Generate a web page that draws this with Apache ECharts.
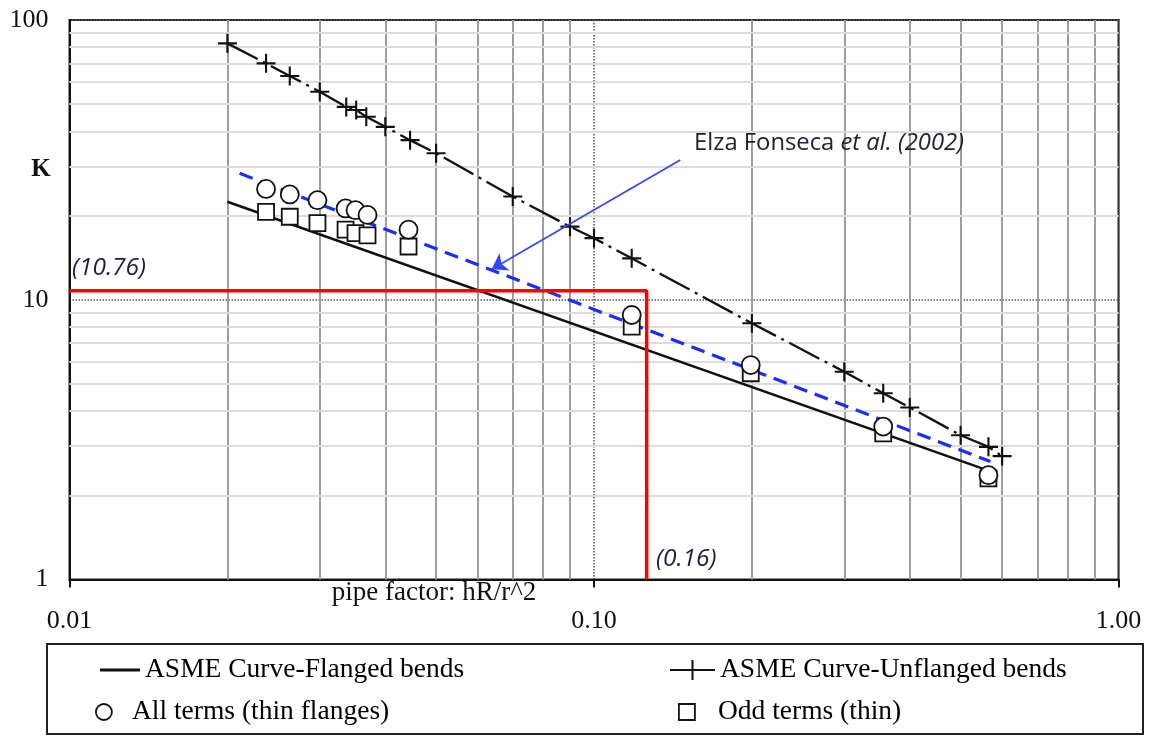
<!DOCTYPE html>
<html><head><meta charset="utf-8">
<script src="https://cdn.jsdelivr.net/npm/echarts@6/dist/echarts.min.js"></script>
<style>html,body{margin:0;padding:0;background:#fff}#c{width:1154px;height:736px}</style>
</head><body><div id="c"></div>
<script>
// ---- tick labels ----
const xTickLabels = ['0.01', '0.10', '1.00'];
const yTickLabels = ['1', '10', '100'];
const xMinorGrid = [0.02,0.03,0.04,0.05,0.06,0.07,0.08,0.09,0.2,0.3,0.4,0.5,0.6,0.7,0.8,0.9];
const yMinorGrid = [2,3,4,5,6,7,8,9,20,30,40,50,60,70,80,90];

// ---- series data ----
const flangedX = [0.020, 0.565];
const flangedK = [22.4, 2.45];

const unflangedX = [0.0200, 0.0237, 0.0263, 0.0300, 0.0337, 0.0352, 0.0368, 0.0400, 0.0446, 0.0500,
                    0.070, 0.090, 0.100, 0.118, 0.200, 0.300, 0.356, 0.400, 0.500, 0.565, 0.600];
const unflangedK = [82.5, 70.0, 63.1, 55.4, 48.9, 47.7, 45.1, 41.5, 37.2, 33.4,
                    23.4, 18.25, 16.6, 14.06, 8.24, 5.53, 4.63, 4.12, 3.28, 2.98, 2.76];

const allTermsX = [0.0237, 0.0263, 0.0297, 0.0336, 0.0351, 0.0370, 0.0443, 0.118, 0.199, 0.356, 0.565];
const allTermsK = [24.9, 23.8, 22.7, 21.2, 20.9, 20.1, 17.8, 8.82, 5.84, 3.52, 2.36];

const oddTermsX = [0.0237, 0.0263, 0.0297, 0.0336, 0.0351, 0.0370, 0.0443, 0.118, 0.199, 0.356, 0.565];
const oddTermsK = [20.6, 19.8, 18.8, 17.8, 17.3, 17.0, 15.5, 8.01, 5.46, 3.33, 2.30];

const fonsecaX = [0.0211, 0.570];
const fonsecaK = [28.3, 2.64];

const refX = [0.01, 0.126, 0.126];
const refK = [10.76, 10.76, 1];

const arrowFrom = [0.146, 31.6];
const arrowTo = [0.0638, 12.85];

const zip = (xs, ys) => xs.map((x, i) => [x, ys[i]]);

const NAME_FL = 'ASME Curve-Flanged bends';
const NAME_UN = 'ASME Curve-Unflanged bends';
const NAME_ALL = 'All terms (thin flanges)';
const NAME_ODD = 'Odd terms (thin)';

const plusPath = 'path://M8,0H10V18H8Z M0,8H18V10H0Z';
const serif = 'Liberation Serif';
const legendText = { fontFamily: serif, fontSize: 27.5, color: '#000', lineHeight: 30 };

const chart = echarts.init(document.getElementById('c'), null, { renderer: 'canvas' });

const gridMarks = xMinorGrid.map(v => ({ xAxis: v, lineStyle: { color: '#9d9d9d', width: 2, type: 'solid' } }))
  .concat(yMinorGrid.map(v => ({ yAxis: v, lineStyle: { color: '#dcdcdc', width: 2, type: 'solid' } })));

chart.setOption({
  animation: false,
  backgroundColor: '#fff',
  grid: { left: 69.5, right: 35.5, top: 20, bottom: 156.5, show: true, borderColor: '#222', borderWidth: 2, backgroundColor: 'transparent' },
  xAxis: {
    type: 'log', logBase: 10, min: 0.01, max: 1,
    axisLine: { show: true, lineStyle: { color: '#111', width: 2 } },
    axisTick: { show: true, length: 8, lineStyle: { color: '#111', width: 2 } },
    axisLabel: {
      margin: 29, fontFamily: serif, fontSize: 26, color: '#111',
      formatter: v => xTickLabels[Math.round(Math.log10(v)) + 2] || ''
    },
    splitLine: { show: true, lineStyle: { type: 'dotted', color: '#555', width: 1.5 } },
    minorTick: { show: false }, minorSplitLine: { show: false }
  },
  yAxis: {
    type: 'log', logBase: 10, min: 1, max: 100,
    axisLine: { show: true, lineStyle: { color: '#111', width: 2 } },
    axisTick: { show: false },
    axisLabel: {
      margin: 21, fontFamily: serif, fontSize: 26, color: '#111', lineHeight: 32, verticalAlign: 'middle', padding: [6, 0, 0, 0],
      formatter: v => yTickLabels[Math.round(Math.log10(v))] || ''
    },
    splitLine: { show: true, lineStyle: { type: 'dotted', color: '#555', width: 1.5 } }
  },
  legend: [
    { data: [{ name: NAME_FL, icon: 'path://M0,0H40V3H0Z', itemStyle: { color: '#111' } }],
      left: 100, top: 655, itemWidth: 40, itemHeight: 3, padding: 0, selectedMode: false, textStyle: legendText },
    { data: [{ name: NAME_UN, icon: 'path://M0,9H45V11H0Z M21.5,0H23.5V20H21.5Z', itemStyle: { color: '#111' } }],
      left: 670, top: 655, itemWidth: 45, itemHeight: 20, padding: 0, selectedMode: false, textStyle: legendText },
    { data: [{ name: NAME_ALL, icon: 'circle', itemStyle: { color: '#fff', borderColor: '#111', borderWidth: 1.8 } }],
      left: 95, top: 697, itemWidth: 46, itemHeight: 16, padding: 0, selectedMode: false, textStyle: legendText },
    { data: [{ name: NAME_ODD, icon: 'rect', itemStyle: { color: '#fff', borderColor: '#111', borderWidth: 1.8 } }],
      left: 678, top: 697, itemWidth: 16, itemHeight: 16, padding: 0, selectedMode: false,
      textStyle: Object.assign({}, legendText, { padding: [0, 0, 0, 18] }) }
  ],
  graphic: [
    { type: 'rect', z: 0, shape: { x: 47, y: 644, width: 1096, height: 90 }, style: { fill: 'none', stroke: '#222', lineWidth: 2 } },
    { type: 'text', z: 50, x: 41, y: 170, style: { text: 'K', fontFamily: serif, fontSize: 25, fontWeight: 'bold', fill: '#111', align: 'center', verticalAlign: 'middle' } },
    { type: 'text', z: 50, x: 434, y: 593, style: { text: 'pipe factor: hR/r^2', fontFamily: serif, fontSize: 27, fill: '#111', align: 'center', verticalAlign: 'middle' } },
    { type: 'text', z: 50, x: 694, y: 143, style: {
        text: '{n|Elza Fonseca }{i|et al. (2002)}', verticalAlign: 'middle',
        rich: {
          n: { fontFamily: 'Open Sans', fontSize: 23.8, fill: '#222233' },
          i: { fontFamily: 'Open Sans', fontSize: 23.8, fontStyle: 'italic', fill: '#222233' }
        } } },
    { type: 'text', z: 50, x: 72, y: 268, style: { text: '(10.76)', fontFamily: 'Open Sans', fontSize: 24.5, fontStyle: 'italic', fill: '#1e1e44', verticalAlign: 'middle' } },
    { type: 'text', z: 50, x: 656, y: 559, style: { text: '(0.16)', fontFamily: 'Open Sans', fontSize: 24.5, fontStyle: 'italic', fill: '#1e1e44', verticalAlign: 'middle' } }
  ],
  series: [
    { name: 'grid', type: 'line', data: [], silent: true, z: 1,
      markLine: { silent: true, symbol: 'none', z: 1, label: { show: false }, animation: false, data: gridMarks } },
    { name: NAME_FL, type: 'line', z: 3, data: zip(flangedX, flangedK), showSymbol: false, symbol: 'none',
      lineStyle: { color: '#111', width: 2.5 }, itemStyle: { color: '#111' } },
    { name: NAME_UN, type: 'line', z: 3, data: zip(unflangedX, unflangedK), symbol: plusPath, symbolSize: 19,
      itemStyle: { color: '#111', borderWidth: 0 }, lineStyle: { color: '#111', width: 2.3, type: [34, 6, 3, 6] } },
    { name: 'Elza Fonseca et al. (2002)', type: 'line', z: 4, data: zip(fonsecaX, fonsecaK), symbol: 'none',
      lineStyle: { color: '#1a2cff', width: 3.2, type: [14, 8] } },
    { name: NAME_ODD, type: 'scatter', z: 5, data: zip(oddTermsX, oddTermsK), symbol: 'rect', symbolSize: 16,
      itemStyle: { color: '#fff', borderColor: '#111', borderWidth: 1.8, opacity: 1 } },
    { name: NAME_ALL, type: 'scatter', z: 6, data: zip(allTermsX, allTermsK), symbol: 'circle', symbolSize: 18,
      itemStyle: { color: '#fff', borderColor: '#111', borderWidth: 1.8, opacity: 1 } },
    { name: 'ref', type: 'line', z: 7, data: zip(refX, refK), symbol: 'none',
      lineStyle: { color: '#ff0000', width: 3.5 } },
    { name: 'arrow', type: 'lines', coordinateSystem: 'cartesian2d', z: 8,
      symbol: ['none', 'arrow'], symbolSize: 15,
      lineStyle: { color: '#3344ff', width: 1.6, opacity: 1 },
      data: [{ coords: [arrowFrom, arrowTo] }] }
  ]
});
</script>
</body></html>
